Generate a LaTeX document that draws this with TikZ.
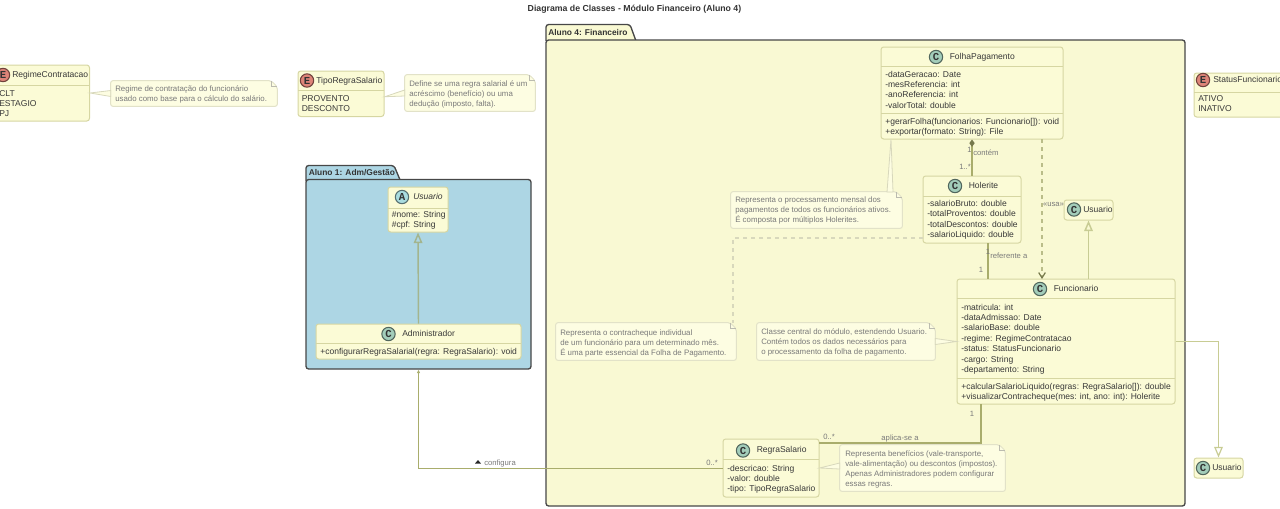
\documentclass[tikz,border=0pt]{standalone}
\usepackage{fontspec}
\setmainfont{Liberation Sans}
\setmonofont{Liberation Mono}
\usetikzlibrary{arrows.meta,calc,fit}
\definecolor{classfill}{HTML}{FBFBD6}
\definecolor{classline}{HTML}{D6D6A2}
\definecolor{notefill}{HTML}{FDFDE2}
\definecolor{noteline}{HTML}{E2E2C8}
\definecolor{notelink}{HTML}{D8D8BC}
\definecolor{pkgyellow}{HTML}{F9F9D3}
\definecolor{pkgblue}{HTML}{ADD6E4}
\definecolor{linkcolor}{HTML}{A9AD6C}
\definecolor{genline}{HTML}{C8CC94}
\definecolor{genblue}{HTML}{A3B58E}
\definecolor{iconc}{HTML}{A3CDBA}
\definecolor{icone}{HTML}{DE8478}
\definecolor{icona}{HTML}{A9DCDF}
\tikzset{
  classbox/.style={draw=classline,fill=classfill,line width=0.75pt,rounded corners=2pt,inner sep=0pt},
  notebody/.style={inner sep=0pt},
  pkgbox/.style={draw=black!72,fill=#1,line width=1pt,rounded corners=2pt,inner sep=0pt},
  member/.style={anchor=base west,inner sep=0pt,font=\fontsize{6.4}{7}\selectfont,text=black!78},
  notetext/.style={anchor=base west,inner sep=0pt,font=\fontsize{5.9}{6}\selectfont,text=black!52},
  classtitle/.style={anchor=base west,inner sep=0pt,font=\fontsize{6.4}{7}\selectfont,text=black!78},
  linktext/.style={inner sep=0pt,font=\fontsize{5.75}{6}\selectfont,text=black!52},
  icon/.style={circle,draw=black!50!#1,fill=#1,line width=0.8pt,minimum size=10pt,inner sep=0pt,font=\fontsize{8}{8}\ttfamily\bfseries\selectfont,text=black!80},
  sepline/.style={draw=classline,line width=0.6pt},
  genlink/.style={draw=genline,line width=1.1pt},
  assoc/.style={draw=linkcolor,line width=0.75pt},
  hollow/.style={-{Triangle[open,length=8pt,width=6.5pt]}},
}
\newcommand{\classframe}[5]{\node[classbox,fit={(#2,#3) (#4,#5)}] (#1) {};}
\newcommand{\classhead}[6]{%
  \node[icon=#4] (#1 icon) at (#2,#3) {#5};
  \node[classtitle] (#1 title) at (#2+13.5,#3+2.4) {#6};}
\newcommand{\memberlist}[4]{\foreach \txt [count=\i] in {#4}
  \node[member] (#1 m\i) at (#2,{#3+(\i-1)*10.45}) {\txt};}
\newcommand{\notelist}[4]{\foreach \txt [count=\i] in {#4}
  \node[notetext] (#1 t\i) at (#2,{#3+(\i-1)*10}) {\txt};}
\newcommand{\notepaper}[5]{%
  \node[notebody,fit={(#2,#3) (#4,#5)}] (#1) {};
  \draw[fill=notefill,draw=noteline,line width=0.75pt,rounded corners=1.5pt] (#1.north west)
    -- ($(#1.north east)+(-6,0)$) -- ($(#1.north east)+(0,6)$) -- (#1.south east) -- (#1.south west) -- cycle;
  \draw[draw=noteline!70!black!70,line width=0.5pt] ($(#1.north east)+(-6,0)$) -- ($(#1.north east)+(-6,6)$) -- ($(#1.north east)+(0,6)$);}
\begin{document}
\begin{tikzpicture}[x=0.75pt,y=-0.75pt]
  \useasboundingbox (0,0) rectangle (1280,508);
  \node[font=\fontsize{6.55}{7}\bfseries\selectfont,text=black!80] (title) at (634.5,9.5) {Diagrama de Classes - Módulo Financeiro (Aluno 4)};

  % packages
  \draw[pkgbox=pkgyellow] (546,41) -- (546,24.5) -- (630,24.5) -- (636,41);
  \node[pkgbox=pkgyellow,fit={(546,40) (1185,506)}] (pkgfin) {};
  \node[anchor=base west,inner sep=0pt,font=\fontsize{6.3}{7}\bfseries\selectfont,text=black!80] (pkgfin tab) at (548,35) {Aluno 4: Financeiro};
  \draw[pkgbox=pkgblue] (306,181) -- (306,165.5) -- (394,165.5) -- (400.5,181);
  \node[pkgbox=pkgblue,fit={(306,179.5) (531,369)}] (pkgadm) {};
  \node[anchor=base west,inner sep=0pt,font=\fontsize{6.3}{7}\bfseries\selectfont,text=black!80] (pkgadm tab) at (308.5,175.5) {Aluno 1: Adm/Gestão};

  % classes
  \classframe{regime}{-12}{65}{89.5}{121}
  \classframe{tipo}{298}{71}{384}{116.5}
  \classframe{status}{1194}{73}{1295}{117}
  \classframe{usuario}{388}{187}{448}{232}
  \classframe{admin}{316}{324}{521}{359}
  \classframe{folha}{881}{47}{1063}{139}
  \classframe{holerite}{923}{176}{1021}{243}
  \classframe{usrin}{1064}{200}{1113}{220}
  \classframe{func}{957}{279}{1175}{404}
  \classframe{regra}{723}{439}{819}{497}
  \classframe{usrout}{1194}{458}{1243}{478}
  \draw[sepline] (-12,85) -- (89.5,85);
  \draw[sepline] (298,90) -- (384,90);
  \draw[sepline] (1194,92) -- (1280,92);
  \draw[sepline] (388,208) -- (448,208);
  \draw[sepline] (316,343) -- (521,343);
  \draw[sepline] (881,66) -- (1063,66);
  \draw[sepline] (881,113) -- (1063,113);
  \draw[sepline] (923,196) -- (1021,196);
  \draw[sepline] (957,298) -- (1175,298);
  \draw[sepline] (957,378) -- (1175,378);
  \draw[sepline] (723,459) -- (819,459);

  \node[icon=icone] (regime icon) at (3,75) {E};
  \node[classtitle] (regime title) at (12,77.5) {RegimeContratacao};
  \node[icon=icone] (tipo icon) at (307,80.5) {E};
  \node[classtitle] (tipo title) at (316,83) {TipoRegraSalario};
  \node[icon=icone] (status icon) at (1203,80) {E};
  \node[classtitle] (status title) at (1213,82.5) {StatusFuncionario};
  \node[icon=icona] (usuario icon) at (402,197) {A};
  \node[classtitle,font=\fontsize{6.4}{7}\itshape\selectfont] (usuario title) at (413,199.5) {Usuario};
  \classhead{admin}{388.5}{334}{iconc}{C}{Administrador}
  \classhead{folha}{936}{57}{iconc}{C}{FolhaPagamento}
  \classhead{holerite}{955}{186}{iconc}{C}{Holerite}
  \classhead{func}{1040}{289}{iconc}{C}{Funcionario}
  \classhead{regra}{743}{450.5}{iconc}{C}{RegraSalario}
  \node[icon=iconc] (usrin icon) at (1074,209.5) {C};
  \node[classtitle] (usrin title) at (1083,212) {Usuario};
  \node[icon=iconc] (usrout icon) at (1203,468) {C};
  \node[classtitle] (usrout title) at (1212,470.5) {Usuario};

  \memberlist{regime}{-1}{96}{CLT,ESTAGIO,PJ}
  \memberlist{tipo}{301.5}{101}{PROVENTO,DESCONTO}
  \memberlist{status}{1198}{101}{ATIVO,INATIVO}
  \memberlist{usuario}{391.5}{217}{\#nome: String,\#cpf: String}
  \memberlist{admin}{320}{354}{+configurarRegraSalarial(regra: RegraSalario): void}
  \memberlist{folha}{885}{77}{-dataGeracao: Date,-mesReferencia: int,-anoReferencia: int,-valorTotal: double}
  \memberlist{folha x}{885}{124.5}{+gerarFolha(funcionarios: Funcionario[]): void,+exportar(formato: String): File}
  \memberlist{holerite}{927}{206.5}{-salarioBruto: double,-totalProventos: double,-totalDescontos: double,-salarioLiquido: double}
  \memberlist{func}{961}{310}{-matricula: int,-dataAdmissao: Date,-salarioBase: double,-regime: RegimeContratacao,-status: StatusFuncionario,-cargo: String,-departamento: String}
  \memberlist{func x}{961}{389.5}{+calcularSalarioLiquido(regras: RegraSalario[]): double,{+visualizarContracheque(mes: int, ano: int): Holerite}}
  \memberlist{regra}{727}{471}{-descricao: String,-valor: double,-tipo: TipoRegraSalario}

  % notes
  \notepaper{noteregime}{111}{81}{277}{106}
  \notelist{noteregime}{115}{91.5}{Regime de contratação do funcionário,{usado como base para o cálculo do salário.}}
  \notepaper{notetipo}{405}{75}{535}{111}
  \notelist{notetipo}{409}{86.5}{Define se uma regra salarial é um,acréscimo (benefício) ou uma,{dedução (imposto, falta).}}
  \notepaper{notefolha}{731}{192}{902}{228}
  \notelist{notefolha}{735}{202.5}{Representa o processamento mensal dos,pagamentos de todos os funcionários ativos.,É composta por múltiplos Holerites.}
  \notepaper{noteholerite}{556}{323}{736}{360}
  \notelist{noteholerite}{560}{335}{Representa o contracheque individual,de um funcionário para um determinado mês.,É uma parte essencial da Folha de Pagamento.}
  \notepaper{notefunc}{757}{323}{935}{360}
  \notelist{notefunc}{761}{334.5}{{Classe central do módulo, estendendo Usuario.},Contém todos os dados necessários para,o processamento da folha de pagamento.}
  \notepaper{noteregra}{840}{445}{1005}{491}
  \notelist{noteregra}{845}{456.5}{{Representa benefícios (vale-transporte,},vale-alimentação) ou descontos (impostos).,Apenas Administradores podem configurar,essas regras.}

  % note links
  \fill[notefill,draw=notelink,line width=0.6pt] (regime.east) -- ($(noteregime.west)+(0,-3)$) -- ($(noteregime.west)+(0,3)$) -- cycle;
  \fill[notefill,draw=notelink,line width=0.6pt] ($(tipo.east)+(0,3)$) -- ($(notetipo.west)+(0,-3)$) -- ($(notetipo.west)+(0,3)$) -- cycle;
  \fill[notefill,draw=notelink,line width=0.6pt] (func.west) -- ($(notefunc.east)+(0,-3)$) -- ($(notefunc.east)+(0,3)$) -- cycle;
  \fill[notefill,draw=notelink,line width=0.6pt] (regra.east) -- ($(noteregra.west)+(0,-5)$) -- ($(noteregra.west)+(0,1)$) -- cycle;
  \coordinate (folhanote) at (891,139);
  \fill[notefill,draw=notelink,line width=0.6pt] (folhanote) -- (887,192) -- (893,192) -- cycle;
  \coordinate (holeritenote) at (923,238);
  \draw[draw=notelink,line width=1pt,dashed] (holeritenote) -- (733,238) -- (733,323);

  % relations
  \draw[genlink,draw=genblue,hollow] (admin.north) -- (usuario.south);
  \draw[genlink,hollow] (usrin.south |- func.north) -- (usrin.south);
  \draw[assoc,draw=genline,line width=0.9pt,hollow] (func.east) -| (usrout.north);
  \draw[assoc,-{Latex[length=2.5pt,width=2.5pt]}] (regra.west) -| (admin.south |- pkgadm.south);
  \draw[assoc,line width=1pt,-{Diamond[length=5.5pt,width=4pt,color=linkcolor!70!black,fill=linkcolor!70!black]}] (holerite.north) -- (holerite.north |- folha.south);
  \coordinate (usafrom) at (1042,139);
  \coordinate (usato) at (1042,279);
  \draw[assoc,draw=linkcolor!80,line width=0.9pt,dashed,-{Straight Barb[length=4pt,width=5pt,color=linkcolor!70!black]}] (usafrom) -- (usato);
  \coordinate (holbottom) at (988,243);
  \draw[assoc,line width=0.9pt] (holbottom) -- (holbottom |- func.north);
  \coordinate (funcbottom) at (981,404);
  \coordinate (regraside) at (819,443);
  \draw[assoc,line width=0.9pt] (funcbottom) |- (regraside);

  % relation labels
  \node[linktext] (lblfolha) at (969.5,150) {1};
  \node[linktext,anchor=west] (lblcontem) at (973,153) {contém};
  \node[linktext] (lblmany) at (965,167) {1..*};
  \node[linktext] (lblusa) at (1053.5,204.5) {«usa»};
  \node[linktext] (lblhol) at (988,252) {1};
  \node[linktext,anchor=west] (lblreferente) at (990,256) {referente a};
  \node[linktext] (lblfun) at (981,270) {1};
  \node[linktext] (lblbottom) at (972,414) {1};
  \node[linktext] (lblregra) at (829,437) {0..*};
  \node[linktext] (lblaplica) at (900,438.5) {aplica-se a};
  \node[linktext] (lblregra2) at (712,463) {0..*};
  \node[linktext,anchor=west] (lblconfigura) at (484,464) {configura};
  \fill[black!85] (475,463.5) -- (478,460) -- (481,463.5) -- cycle;
\end{tikzpicture}
\end{document}
